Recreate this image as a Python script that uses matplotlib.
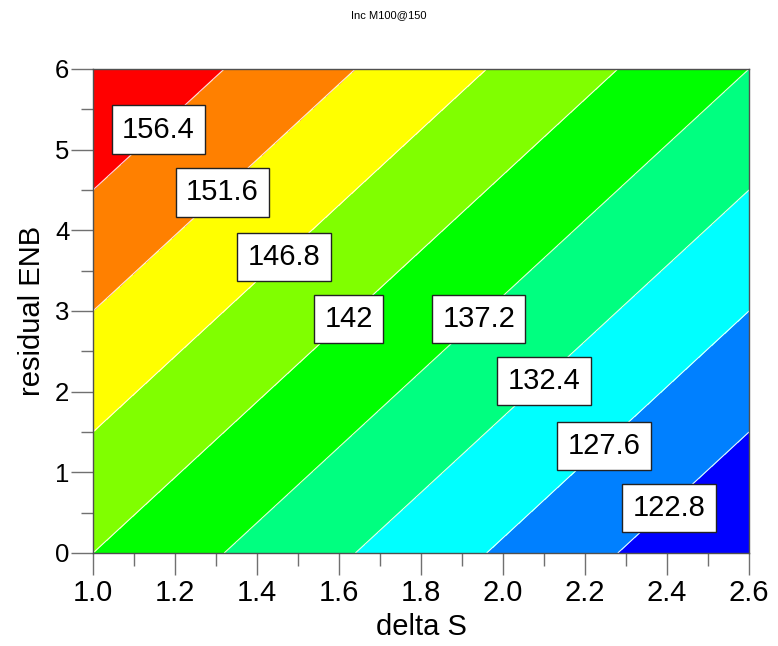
import matplotlib
matplotlib.use("Agg")
import matplotlib.pyplot as plt
from matplotlib.ticker import MultipleLocator
import numpy as np

plt.rcParams['font.family'] = ['Liberation Sans', 'DejaVu Sans']

# Grid of the response surface
delta_s = [1.0, 1.4, 1.8, 2.2, 2.6]
residual_enb = [0.0, 1.5, 3.0, 4.5, 6.0]
# rows follow residual_enb, columns follow delta_s
inc_values = [
    [142.0, 136.0, 130.0, 124.0, 118.0],
    [146.8, 140.8, 134.8, 128.8, 122.8],
    [151.6, 145.6, 139.6, 133.6, 127.6],
    [156.4, 150.4, 144.4, 138.4, 132.4],
    [161.2, 155.2, 149.2, 143.2, 137.2],
]

contour_levels = [122.8, 127.6, 132.4, 137.2, 142.0, 146.8, 151.6, 156.4]
band_colors = ['#0000FF', '#0080FF', '#00FFFF', '#00FF80', '#00FF00',
               '#80FF00', '#FFFF00', '#FF8000', '#FF0000']

# label anchor points (delta S, residual ENB) for each contour level
label_x = [2.405, 2.246, 2.100, 1.941, 1.624, 1.466, 1.315, 1.160]
label_y = [0.56, 1.33, 2.13, 2.90, 2.90, 3.67, 4.47, 5.25]

X, Y = np.meshgrid(delta_s, residual_enb)
Z = np.array(inc_values)

fig = plt.figure(figsize=(7.78, 6.46), dpi=100)
ax = fig.add_axes([93 / 778, 1 - 553 / 646, 656 / 778, 484 / 646])

bounds = [Z.min() - 1] + contour_levels + [Z.max() + 1]
ax.contourf(X, Y, Z, levels=bounds, colors=band_colors)
ax.contour(X, Y, Z, levels=contour_levels, colors='white', linewidths=0.8, alpha=0.9)

for lx, ly, lv in zip(label_x, label_y, contour_levels):
    txt = f"{lv:g}"
    ax.text(lx, ly, txt, fontsize=21, ha='center', va='center', zorder=5,
            bbox=dict(boxstyle='square,pad=0.35', facecolor='white',
                      edgecolor='#222222', linewidth=1.0))

ax.set_xlim(1.0, 2.6)
ax.set_ylim(0, 6)
ax.xaxis.set_minor_locator(MultipleLocator(0.1))
ax.yaxis.set_major_locator(MultipleLocator(1))
ax.yaxis.set_minor_locator(MultipleLocator(0.5))
xt = np.arange(1.0, 2.61, 0.2)
ax.set_xticks(xt)
ax.set_xticklabels([f"{v:.1f}" for v in xt])

ax.tick_params(which='major', direction='out', length=16, width=1.0,
               color='#707070')
ax.tick_params(which='minor', direction='out', length=9, width=1.0,
               color='#707070')
ax.tick_params(axis='x', which='major', pad=3, labelsize=21)
ax.tick_params(axis='y', which='major', pad=1, labelsize=18.5)
ax.tick_params(top=False, right=False, which='both')

for side, sp in ax.spines.items():
    sp.set_color('#505050')
    sp.set_linewidth(1.0)

ax.set_xlabel('delta S', fontsize=21, labelpad=4)
ax.set_ylabel('residual ENB', fontsize=21, labelpad=6.5)

fig.text(0.5, 1 - 15 / 646, 'Inc M100@150', ha='center', va='center', fontsize=8)

fig.savefig('out.png', dpi=100)
